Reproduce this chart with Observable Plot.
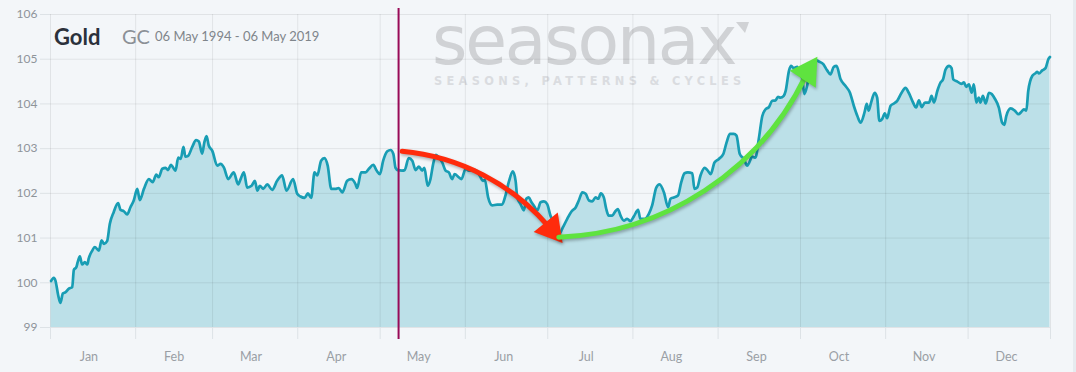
<!DOCTYPE html>
<html><head><meta charset="utf-8">
<script src="https://cdn.jsdelivr.net/npm/d3@7"></script>
<script src="https://cdn.jsdelivr.net/npm/@observablehq/plot@0.6"></script>
<style>
html,body{margin:0;padding:0;background:#f3f6f9;}
#wrap{position:relative;width:1076px;height:372px;overflow:hidden;background:#f3f6f9;}
#chart{position:absolute;left:0;top:0;}
.abs{position:absolute;white-space:nowrap;line-height:1;}
#wm1{left:432px;top:1px;line-height:normal;padding-right:8px;font-family:"DejaVu Sans";font-size:68px;letter-spacing:-2.2px;color:#d0d2d5;}
#wm1 span{letter-spacing:0;}
#wmtri{position:absolute;left:736px;top:22px;width:0;height:0;border-top:11px solid #d0d2d5;border-left:9px solid transparent;border-right:4px solid transparent;}
#wm2{left:434px;top:75.5px;font-family:"DejaVu Sans";font-weight:bold;font-size:11.4px;letter-spacing:4.3px;color:#dadce0;}
#t1{left:54px;top:25.5px;font-family:Lato;font-weight:bold;font-size:22px;color:#2b313b;}
#t2{left:122px;top:25.6px;font-family:Lato;font-size:20px;color:#8b9096;}
#t3{left:155px;top:29.5px;font-family:Lato;font-size:13px;color:#7f858b;}
#edge{position:absolute;right:0;top:0;width:3px;height:372px;background:#e6ebef;}
</style></head><body>
<div id="wrap">
  <div class="abs" id="wm1">seasona<span>x</span></div>
  <div id="wmtri"></div>
  <div class="abs" id="wm2">SEASONS, PATTERNS &amp; CYCLES</div>
  <div id="chart"></div>
  <div class="abs" id="t1">Gold</div>
  <div class="abs" id="t2">GC</div>
  <div class="abs" id="t3">06 May 1994 - 06 May 2019</div>
  <div id="edge"></div>
</div>
<script>
// Day of year (0 = 1 Jan) and seasonal index value
const days = [0.2,1.2,1.8,2.8,3.6,4.5,5.5,6.7,7.9,8.5,9.4,9.9,10.7,11.5,12.5,13.4,13.9,15.2,16.1,17.6,18.6,19.5,20.6,21.6,23.0,24.6,25.5,26.7,27.9,29.1,30.3,31.6,32.5,34.0,35.8,37.2,38.5,39.4,40.7,41.9,42.8,43.8,45.5,46.5,47.4,48.4,49.1,50.1,51.6,53.0,54.0,55.2,56.0,56.8,57.6,58.9,60.7,61.9,63.1,64.7,66.7,68.3,69.2,70.4,71.6,73.2,74.4,75.3,76.2,77.4,78.9,80.7,82.5,84.3,85.9,88.3,89.8,91.0,92.5,93.7,94.9,96.1,97.1,98.5,99.7,100.9,102.2,103.7,104.9,106.2,108.0,109.5,111.0,111.6,113.1,114.7,115.9,117.5,118.7,119.9,121.1,122.6,123.8,124.8,125.6,126.4,128.0,128.9,130.4,131.7,132.9,134.1,135.3,136.1,137.3,138.3,139.3,140.3,141.4,142.6,143.8,145.0,146.2,147.1,148.6,149.6,151.1,152.3,153.5,154.7,156.2,157.4,158.1,159.3,160.8,162.6,164.4,165.6,166.8,168.3,169.3,169.9,171.1,172.3,173.2,174.1,175.1,175.9,177.2,178.4,179.6,180.8,182.0,183.2,184.5,185.3,186.5,188.1,189.7,191.1,192.3,193.6,194.8,196.0,197.2,198.4,199.4,200.3,201.4,202.3,203.2,204.5,205.4,206.5,207.5,208.7,209.9,211.1,212.3,213.9,214.7,216.3,217.8,219.0,220.5,221.7,223.3,224.8,225.7,226.9,228.4,229.6,230.8,232.0,233.6,234.4,235.4,236.6,238.1,239.1,240.3,241.7,243.3,244.9,246.1,247.3,248.7,249.7,250.9,252.4,253.6,254.2,255.4,256.6,257.8,259.1,260.3,261.5,262.7,263.9,264.8,265.7,266.9,267.6,268.8,269.6,270.6,271.8,272.8,273.6,274.4,275.4,276.4,277.3,278.5,279.7,281.3,282.7,283.9,285.1,286.1,287.6,289.4,291.0,292.4,293.7,294.9,296.3,297.1,297.8,298.7,300.0,300.9,301.7,302.7,303.7,304.5,305.8,307.0,308.2,309.8,311.2,312.4,313.7,315.1,316.1,317.1,318.3,319.8,320.7,321.6,322.8,324.0,324.9,325.8,327.1,328.0,328.6,330.1,331.6,332.5,333.3,334.3,335.3,336.1,337.0,337.9,338.5,339.4,340.4,341.6,342.6,343.8,345.2,346.4,347.2,347.9,349.5,351.0,352.3,353.5,354.3,355.2,355.9,357.4,358.4,359.2,359.8,361.0,362.2,363.2,363.8];
const values = [100.04,100.11,100.05,99.72,99.55,99.76,99.79,99.87,99.9,100.29,100.35,100.46,100.59,100.41,100.46,100.41,100.54,100.72,100.8,100.72,100.95,100.87,100.93,101.32,101.58,101.78,101.63,101.6,101.53,101.69,101.84,102.1,101.85,102.1,102.32,102.25,102.42,102.36,102.55,102.57,102.52,102.64,102.51,102.8,102.77,103.04,102.82,102.84,103.04,103.19,103.16,102.89,103.14,103.28,103.07,102.95,102.62,102.66,102.58,102.32,102.47,102.2,102.32,102.47,102.13,102.17,102.28,102.06,102.17,102.1,102.2,102.08,102.28,102.4,102.06,102.32,101.99,101.93,101.9,102.0,101.9,102.47,102.4,102.73,102.79,102.62,102.1,102.1,102.12,102.02,102.28,102.32,102.21,102.12,102.47,102.47,102.55,102.64,102.51,102.43,102.73,102.94,102.97,102.88,102.57,102.52,102.51,102.52,102.79,102.73,102.52,102.6,102.51,102.57,102.17,102.32,102.66,102.86,102.8,102.69,102.51,102.47,102.32,102.43,102.36,102.32,102.55,102.51,102.51,102.52,102.4,102.28,102.3,101.91,101.73,101.75,101.75,101.95,102.25,102.49,102.28,101.91,101.76,101.62,101.88,101.91,101.8,101.73,101.62,101.8,101.82,101.76,101.5,101.35,101.21,101.1,101.24,101.43,101.6,101.68,101.84,102.02,101.99,101.84,101.82,101.91,101.88,102.0,101.91,101.65,101.5,101.5,101.58,101.65,101.5,101.39,101.43,101.38,101.48,101.63,101.43,101.43,101.54,101.73,102.13,102.2,102.02,101.69,101.88,101.91,101.95,102.25,102.45,102.47,102.45,102.1,102.13,102.4,102.57,102.52,102.43,102.69,102.77,102.88,103.14,103.33,103.33,103.29,102.88,102.77,102.62,102.67,102.82,102.8,103.21,103.73,103.88,103.93,104.07,104.08,104.16,104.14,104.18,104.29,104.74,104.85,104.8,104.83,104.65,104.59,104.22,104.4,104.74,104.85,104.98,104.95,104.89,104.75,104.66,104.83,104.85,104.55,104.4,104.25,103.96,103.73,103.58,103.81,104.0,103.85,104.03,104.25,104.14,103.62,103.66,103.79,103.68,103.96,104.01,104.07,104.25,104.36,104.25,104.07,103.92,104.08,103.93,104.03,104.03,104.18,104.03,104.29,104.48,104.55,104.77,104.85,104.8,104.55,104.5,104.45,104.48,104.38,104.44,104.25,104.44,104.03,104.14,104.03,104.18,104.01,104.25,104.22,104.11,103.92,103.58,103.53,103.73,103.9,103.85,103.77,103.83,103.88,103.85,104.29,104.63,104.68,104.72,104.68,104.75,104.8,105.0,105.05];

const monthStarts = [0,31,59,90,120,151,181,212,243,273,304,334,364];
const labelDays = [14,45,73,104,134,165,195,226,257,287,318,348];
const monthNames = ["Jan","Feb","Mar","Apr","May","Jun","Jul","Aug","Sep","Oct","Nov","Dec"];
const yTicks = [99,100,101,102,103,104,105,106];

// annotations
const markerDay = [126.7];
const redArrow = [{x1:128.0, y1:102.94, x2:181.6, y2:101.24}];
const redHead = [{x:182.3, y:101.2, angle:141}];
const greenArrow = [{x1:185.0, y1:101.02, x2:275.0, y2:104.64}];
const greenHead = [{x:275.6, y:104.72, angle:33}];

const data = days.map((d, i) => ({day: d, value: values[i]}));
const gridColor = "#dde2e6";

const chart = Plot.plot({
  width: 1076,
  height: 372,
  marginLeft: 50,
  marginRight: 26,
  marginTop: 14,
  marginBottom: 45,
  style: {background: "transparent", fontFamily: "Lato", fontSize: "12px", color: "#8e949a"},
  x: {type: "linear", domain: [0, 364]},
  y: {domain: [99, 106]},
  marks: [
    Plot.areaY(data, {x: "day", y1: 99, y2: "value", fill: "#bce0e8", curve: "monotone-x"}),
    Plot.gridY(yTicks, {stroke: "#000", strokeOpacity: 0.075}),
    Plot.gridX(monthStarts, {stroke: "#000", strokeOpacity: 0.075}),
    Plot.axisY(yTicks, {tickSize: 10, tickPadding: 3, stroke: gridColor, fill: "#8e949a", label: null, fontSize: 12}),
    Plot.axisX(monthStarts, {tickSize: 12, tickFormat: () => "", stroke: gridColor, label: null}),
    Plot.axisX(labelDays, {tickSize: 0, tickPadding: 25, tickFormat: d => monthNames[labelDays.indexOf(d)], fill: "#9a9fa5", label: null, fontSize: 12.5}),
    Plot.line(data, {x: "day", y: "value", stroke: "#189db4", strokeWidth: 2.7, curve: "monotone-x"}),
    Plot.ruleX(markerDay, {stroke: "#980a58", strokeWidth: 2, insetTop: -6, insetBottom: -12}),
    Plot.arrow(redArrow, {x1: "x1", y1: "y1", x2: "x2", y2: "y2", bend: 22, headLength: 0, stroke: "#ff2b0c", strokeWidth: 5}),
    Plot.dot(redHead, {x: "x", y: "y", symbol: "triangle", r: 11.5, rotate: "angle", fill: "#ff2b0c", stroke: "none"}),
    Plot.arrow(greenArrow, {x1: "x1", y1: "y1", x2: "x2", y2: "y2", bend: -31, headLength: 0, stroke: "#5fe33f", strokeWidth: 5}),
    Plot.dot(greenHead, {x: "x", y: "y", symbol: "triangle", r: 11.5, rotate: "angle", fill: "#5fe33f", stroke: "none"})
  ]
});
document.getElementById("chart").appendChild(chart);
d3.select(chart).selectAll('g[aria-label="arrow"], g[aria-label="dot"]')
  .style("filter", "drop-shadow(1px 2px 1.5px rgba(0,0,0,0.28))");
</script>
</body></html>
